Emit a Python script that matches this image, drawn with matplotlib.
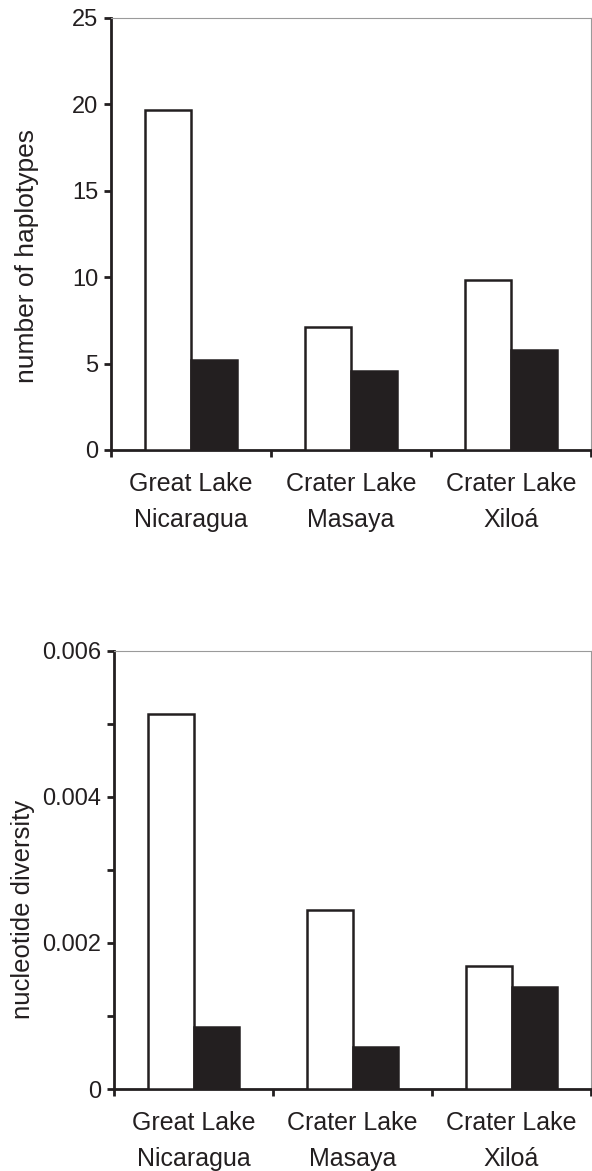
import matplotlib
matplotlib.use("Agg")
import matplotlib.pyplot as plt
import numpy as np

plt.rcParams['font.family'] = ['Liberation Sans', 'DejaVu Sans']

categories = ["Great Lake\nNicaragua", "Crater Lake\nMasaya", "Crater Lake\nXilo\u00e1"]
haplotypes_white = [19.7, 7.1, 9.85]
haplotypes_black = [5.2, 4.6, 5.8]
diversity_white = [0.00513, 0.00245, 0.00169]
diversity_black = [0.00085, 0.00058, 0.00140]

hap_ticks = [0, 5, 10, 15, 20, 25]
hap_ticklabels = ["0", "5", "10", "15", "20", "25"]
div_ticks = [0, 0.001, 0.002, 0.003, 0.004, 0.005, 0.006]
div_ticklabels = ["0", "", "0.002", "", "0.004", "", "0.006"]

W, H = 592, 1171
fig = plt.figure(figsize=(W / 100, H / 100), dpi=100)

BLACK = "#231f20"
bw = 1 / 3.5


def style(ax, ymax, ticks, ticklabels, ylabel, labelx, labely, ylabelsize):
    x = np.arange(len(categories))
    ax.set_xlim(-0.5, len(categories) - 0.5)
    ax.set_ylim(0, ymax)
    for s in ("top", "right"):
        ax.spines[s].set_color("#9a9a9a")
        ax.spines[s].set_linewidth(0.8)
    for s in ("left", "bottom"):
        ax.spines[s].set_color(BLACK)
        ax.spines[s].set_linewidth(2.0)
    ax.set_yticks(ticks)
    ax.set_yticklabels(ticklabels)
    ax.tick_params(axis="y", direction="out", length=5, width=2.0, color=BLACK,
                   labelsize=17, pad=4, labelcolor=BLACK)
    ax.set_xticks(np.arange(len(categories) + 1) - 0.5)
    ax.set_xticklabels([])
    ax.tick_params(axis="x", which="major", direction="out", length=5, width=2.0, color=BLACK)
    ax.set_xticks(x, minor=True)
    ax.set_xticklabels(categories, minor=True, fontsize=18, color=BLACK, linespacing=1.6)
    ax.tick_params(axis="x", which="minor", length=0, pad=16)
    ax.set_ylabel(ylabel, fontsize=ylabelsize, color=BLACK)
    ax.yaxis.set_label_coords(labelx, labely)


ax1 = fig.add_axes([111 / W, 1 - 450 / H, 480 / W, 432 / H])
x = np.arange(len(categories))
ax1.bar(x - bw / 2, haplotypes_white, width=bw, color="white", edgecolor=BLACK, linewidth=1.8, zorder=3)
ax1.bar(x + bw / 2, haplotypes_black, width=bw, color=BLACK, edgecolor=BLACK, linewidth=1.8, zorder=3)
style(ax1, 25, hap_ticks, hap_ticklabels, "number of haplotypes", -0.15, 0.45, 19)

ax2 = fig.add_axes([114 / W, 1 - 1089 / H, 477 / W, 438.3 / H])
ax2.bar(x - bw / 2, diversity_white, width=bw, color="white", edgecolor=BLACK, linewidth=1.8, zorder=3)
ax2.bar(x + bw / 2, diversity_black, width=bw, color=BLACK, edgecolor=BLACK, linewidth=1.8, zorder=3)
style(ax2, 0.006, div_ticks, div_ticklabels, "nucleotide diversity", -0.165, 0.41, 18.5)

fig.savefig("out.png", dpi=100, facecolor="white")
